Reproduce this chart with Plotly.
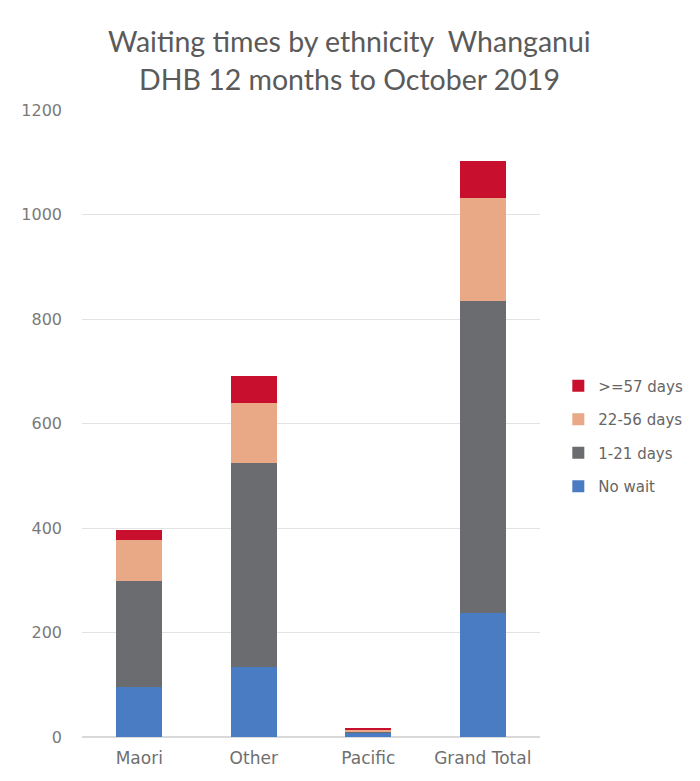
import plotly.graph_objects as go

categories = ["Maori", "Other", "Pacific", "Grand Total"]
no_wait = [96, 134, 8, 238]
days_1_21 = [203, 391, 2, 596]
days_22_56 = [79, 114, 4, 197]
days_57_plus = [19, 51, 2, 72]

series = [
    ("No wait", no_wait, "#4a7cc4"),
    ("1-21 days", days_1_21, "#6b6c70"),
    ("22-56 days", days_22_56, "#e9a886"),
    (">=57 days", days_57_plus, "#c8102e"),
]

fig = go.Figure()
for rank, (name, vals, color) in enumerate(series):
    fig.add_trace(go.Bar(x=categories, y=vals, name=name, marker_color=color,
                         marker_line_width=0, legendgroup=name,
                         legendrank=len(series) - rank))

title_lines = ["Waiting times by ethnicity  Whanganui", "DHB 12 months to October 2019"]
for text, ypos in zip(title_lines, [1.11, 1.05]):
    fig.add_annotation(text=text, xref="paper", yref="paper", x=0.583, y=ypos,
                       xanchor="center", yanchor="middle", showarrow=False,
                       font=dict(family="Lato", size=28.5, color="#5a5a5a"))

fig.update_layout(
    width=700, height=781,
    barmode="stack",
    bargap=0.6,
    paper_bgcolor="white",
    plot_bgcolor="white",
    font=dict(family="DejaVu Sans", color="#6f6f6f", size=14),
    margin=dict(l=74, r=168, t=102, b=52),
    legend=dict(
        traceorder="grouped",
        x=1.04, xanchor="left", y=0.48, yanchor="middle",
        font=dict(size=15, color="#666666"),
        itemwidth=30, tracegroupgap=11,
    ),
    showlegend=True,
)
fig.update_yaxes(range=[0, 1200], dtick=200, showgrid=True, gridcolor="#e3e3e3",
                 gridwidth=1, zeroline=True, zerolinecolor="#d9d9d9",
                 ticks="", ticklabelstandoff=19, showline=False,
                 tickfont=dict(size=16, color="#7a7a7a"))
fig.update_xaxes(showline=False, ticks="", ticklabelstandoff=9,
                 tickfont=dict(size=17, color="#6f6f6f"))

fig.write_html("out.html")
